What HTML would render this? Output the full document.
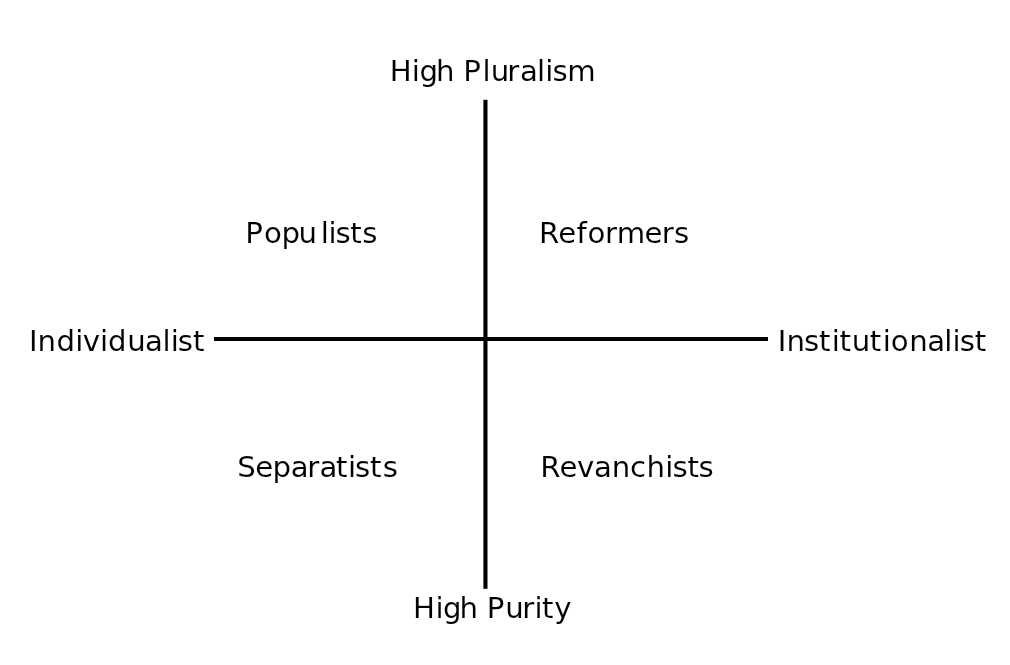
<!DOCTYPE html>
<html lang="en"><head><meta charset="utf-8"><title>Political compass</title>
<style>
html,body{margin:0;padding:0;background:#fff}
body{width:1010px;height:665px;overflow:hidden}
svg{display:block;will-change:transform}
text{font-family:"DejaVu Sans","Liberation Sans",sans-serif;font-size:29.2px;fill:#000;stroke:#fff;stroke-width:0.1px;white-space:pre}
</style></head><body>
<svg width="1010" height="665" viewBox="0 0 1010 665" xmlns="http://www.w3.org/2000/svg">
<rect x="0" y="0" width="1010" height="665" fill="#ffffff"/>
<rect x="214" y="337" width="554" height="4" fill="#000"/>
<rect x="483.4" y="99.8" width="4.1" height="489" fill="#000"/>
<text x="389.67 411.84 419.59 435.91 454.42 463.16 482.45 490.76 507.35 520.00 537.05 545.19 552.62 567.29" y="80.8">High Pluralism</text>
<text x="245.21 264.01 281.50 298.58 320.65 328.49 335.57 350.28 362.32" y="243.2">Populists</text>
<text x="538.89 558.34 576.50 587.56 605.07 616.69 644.39 661.82 674.02" y="243.2">Reformers</text>
<text x="28.89 37.56 56.55 75.29 82.86 99.96 107.93 127.21 145.03 162.55 170.64 177.87 192.98" y="350.6">Individualist</text>
<text x="777.79 786.56 804.07 819.08 831.69 839.48 851.68 869.81 882.69 890.64 909.36 927.20 944.15 952.59 959.72 974.78" y="350.6">Institutionalist</text>
<text x="237.33 255.34 272.45 290.80 307.37 319.45 335.93 348.04 355.07 370.03 382.67" y="477.4">Separatists</text>
<text x="540.29 559.39 576.96 594.10 611.81 630.07 646.41 665.24 672.57 687.48 698.62" y="477.4">Revanchists</text>
<text x="413.07 435.41 442.99 459.51 478.02 486.76 505.18 522.22 534.39 542.03 554.16" y="618.4">High Purity</text>
</svg>
</body></html>
